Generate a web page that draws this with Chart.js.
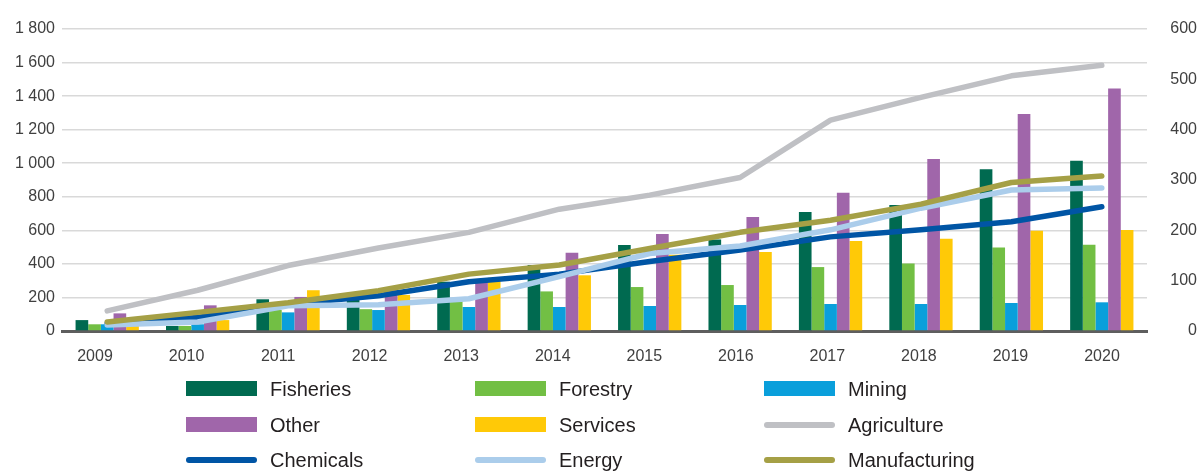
<!DOCTYPE html>
<html>
<head>
<meta charset="utf-8">
<script src="https://cdn.jsdelivr.net/npm/chart.js@4.4.1/dist/chart.umd.min.js"></script>
<style>
  html, body { margin: 0; padding: 0; background: #ffffff; }
  #wrap { position: relative; width: 1202px; height: 471px; overflow: hidden;
          font-family: 'Liberation Sans', Arial, Helvetica, sans-serif; }
  #chart { position: absolute; left: 0; top: 0; }
  .item { position: absolute; width: 280px; height: 0; }
  .sw { position: absolute; left: 0; width: 71px; }
  .lbl { position: absolute; left: 84px; top: 0; transform: translateY(-50%);
         font-size: 20px; line-height: 1; color: #231f20; white-space: nowrap; }
</style>
</head>
<body>
<div id="wrap">
  <canvas id="chart" width="1202" height="471"></canvas>
  <div id="legend"></div>
</div>
<script>
// Years on the category axis
const years = ['2009', '2010', '2011', '2012', '2013', '2014', '2015', '2016', '2017', '2018', '2019', '2020'];

// Bar series (left axis)
const fisheries = [65, 30, 189, 195, 294, 393, 512, 545, 709, 751, 964, 1015];
const forestry  = [40, 30, 125, 130, 180, 236, 262, 274, 381, 403, 497, 514];
const mining    = [40, 40, 111, 125, 143, 143, 149, 155, 161, 161, 167, 171];
const other     = [105, 153, 203, 260, 302, 467, 578, 679, 824, 1025, 1293, 1446];
const services  = [30, 65, 243, 215, 318, 332, 455, 471, 536, 550, 598, 602];

// Line series (right axis)
const agriculture   = [40, 81, 130, 165, 196, 242, 270, 305, 419, 464, 507, 528];
const chemicals     = [15, 27, 53, 70, 98, 113, 138, 161, 187, 201, 217, 247];
const energy        = [12, 18, 50, 52, 64, 108, 154, 169, 201, 244, 280, 284];
const manufacturing = [18, 37, 56, 80, 113, 131, 164, 196, 220, 252, 295, 308];

// Axis tick values
const leftTicks  = [0, 200, 400, 600, 800, 1000, 1200, 1400, 1600, 1800];
const rightTicks = [0, 100, 200, 300, 400, 500, 600];

const barSeries = [
  { label: 'Fisheries', data: fisheries, color: '#006a50' },
  { label: 'Forestry',  data: forestry,  color: '#72bf44' },
  { label: 'Mining',    data: mining,    color: '#0a9fdb' },
  { label: 'Other',     data: other,     color: '#a066aa' },
  { label: 'Services',  data: services,  color: '#ffc907' }
];
const lineSeries = [
  { label: 'Agriculture',   data: agriculture,   color: '#bfc0c4' },
  { label: 'Chemicals',     data: chemicals,     color: '#0055a5' },
  { label: 'Energy',        data: energy,        color: '#abcdeb' },
  { label: 'Manufacturing', data: manufacturing, color: '#a5a046' }
];

const tickFont = { family: "'Liberation Sans', Arial, Helvetica, sans-serif", size: 16 };
const tickColor = '#404040';
const spaced = v => String(v).replace(/\B(?=(\d{3})+(?!\d))/g, ' ');

const datasets = [];
barSeries.forEach(s => datasets.push({
  type: 'bar', label: s.label, data: s.data,
  backgroundColor: s.color, borderWidth: 0,
  categoryPercentage: 0.7, barPercentage: 1.0,
  xAxisID: 'x', yAxisID: 'y', order: 2
}));
lineSeries.forEach((s, i) => datasets.push({
  type: 'line', label: s.label, data: s.data,
  borderColor: s.color, backgroundColor: s.color, borderWidth: 5.5,
  borderCapStyle: 'round', borderJoinStyle: 'round',
  pointRadius: 0, pointHoverRadius: 0, tension: 0, fill: false,
  xAxisID: 'x', yAxisID: 'y1', order: 1 - i * 0.1
}));

// Year labels: evenly spread along the bottom edge
const labelMin = -0.3605, labelMax = 11.4915;

new Chart(document.getElementById('chart').getContext('2d'), {
  type: 'bar',
  data: { labels: years, datasets },
  options: {
    responsive: false,
    animation: false,
    devicePixelRatio: 1,
    layout: { padding: { top: 29, bottom: 100, left: 0, right: 5 } },
    plugins: { legend: { display: false }, tooltip: { enabled: false } },
    scales: {
      x: { type: 'category', display: false, offset: true, grid: { display: false } },
      xl: {
        type: 'linear', position: 'bottom', bounds: 'data', offset: false,
        min: labelMin, max: labelMax, z: 1,
        grid: { display: false, drawTicks: false, offset: false },
        border: { display: true, color: '#5e5e5e', width: 3 },
        afterBuildTicks: s => { s.ticks = years.map((_, i) => ({ value: i })); },
        ticks: { callback: v => years[v], font: tickFont, color: tickColor, padding: 16,
                 maxRotation: 0, autoSkip: false, includeBounds: false },
        afterFit: s => { s.height = 40; }
      },
      y: {
        position: 'left', min: 0, max: 1800,
        afterBuildTicks: s => { s.ticks = leftTicks.map(v => ({ value: v })); },
        grid: { color: c => (c.tick && c.tick.value === 0) ? 'rgba(0,0,0,0)' : '#d9d9d9', lineWidth: 1.5, drawTicks: false },
        border: { display: false },
        ticks: { callback: v => spaced(v), font: tickFont, color: tickColor, padding: 7 },
        afterFit: s => { s.width = 62; }
      },
      y1: {
        position: 'right', min: 0, max: 600,
        afterBuildTicks: s => { s.ticks = rightTicks.map(v => ({ value: v })); },
        grid: { display: false, drawTicks: false },
        border: { display: false },
        ticks: { font: tickFont, color: tickColor, padding: 18, crossAlign: 'far' },
        afterFit: s => { s.width = 50; }
      }
    }
  }
});

// Legend: three columns, bars first, then lines
const legendItems = barSeries.map(s => ({ ...s, kind: 'bar' }))
  .concat(lineSeries.map(s => ({ ...s, kind: 'line' })));
const colX = [186, 475, 764];
const rowY = [388.5, 424.5, 459.5];
const legend = document.getElementById('legend');
legendItems.forEach((it, i) => {
  const el = document.createElement('div');
  el.className = 'item';
  el.style.left = colX[i % 3] + 'px';
  el.style.top = rowY[Math.floor(i / 3)] + 'px';
  const sw = document.createElement('div');
  sw.className = 'sw';
  sw.style.background = it.color;
  if (it.kind === 'bar') { sw.style.height = '15px'; sw.style.top = '-7.5px'; }
  else { sw.style.height = '6px'; sw.style.top = '-3px'; sw.style.borderRadius = '3px'; }
  const lb = document.createElement('div');
  lb.className = 'lbl';
  lb.textContent = it.label;
  el.appendChild(sw);
  el.appendChild(lb);
  legend.appendChild(el);
});
</script>
</body>
</html>
